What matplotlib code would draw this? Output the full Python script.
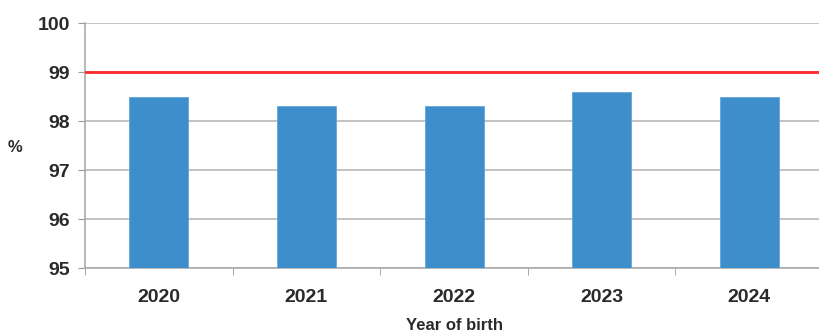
import matplotlib
matplotlib.use("Agg")
import matplotlib.pyplot as plt
import numpy as np

years = ["2020", "2021", "2022", "2023", "2024"]
coverage = [98.5, 98.3, 98.3, 98.6, 98.5]
target = 99
y_ticks = [95, 96, 97, 98, 99, 100]

plt.rcParams['font.family'] = ['Liberation Sans', 'DejaVu Sans']

fig = plt.figure(figsize=(8.19, 3.34), dpi=100)
ax = fig.add_axes([0.1038, 0.1976, 0.9012, 0.7334])

x = np.arange(len(years))
ax.bar(x, coverage, width=0.4, color="#3d8ecb", zorder=3, edgecolor="#62a6dc", linewidth=0.6)
ax.axhline(target, color="#ff2a2a", linewidth=2, zorder=4)

ax.set_ylim(95, 100)
ax.set_xlim(-0.5, len(years) - 0.5)
ax.set_yticks(y_ticks)
ax.set_yticklabels([str(t) for t in y_ticks], fontsize=14, fontweight="bold", color="#2a2a2a")
ax.yaxis.grid(True, color="#b8b8b8", linewidth=1.2, zorder=0)

ax.set_xticks(x)
ax.set_xticklabels(years, fontsize=14, fontweight="bold", color="#2a2a2a")
ax.set_xticks(np.arange(len(years) + 1) - 0.5, minor=True)
ax.tick_params(axis="x", which="major", length=0, pad=15)
ax.tick_params(axis="x", which="minor", length=5, color="#999999", direction="out")
ax.tick_params(axis="y", length=5, color="#999999", direction="out", pad=6)

for side in ("top", "right"):
    ax.spines[side].set_visible(False)
ax.spines["left"].set_color("#aaaaaa")
ax.spines["bottom"].set_color("#aaaaaa")
ax.spines["left"].set_linewidth(1.2)
ax.spines["bottom"].set_linewidth(1.2)

fig.text(15 / 819, 1 - 148 / 334, "%", fontsize=12, fontweight="bold",
         color="#2a2a2a", ha="center", va="center")
fig.text(455 / 819, 1 - 326 / 334, "Year of birth", fontsize=12, fontweight="bold",
         color="#2a2a2a", ha="center", va="center")

fig.savefig("out.png", dpi=100)
